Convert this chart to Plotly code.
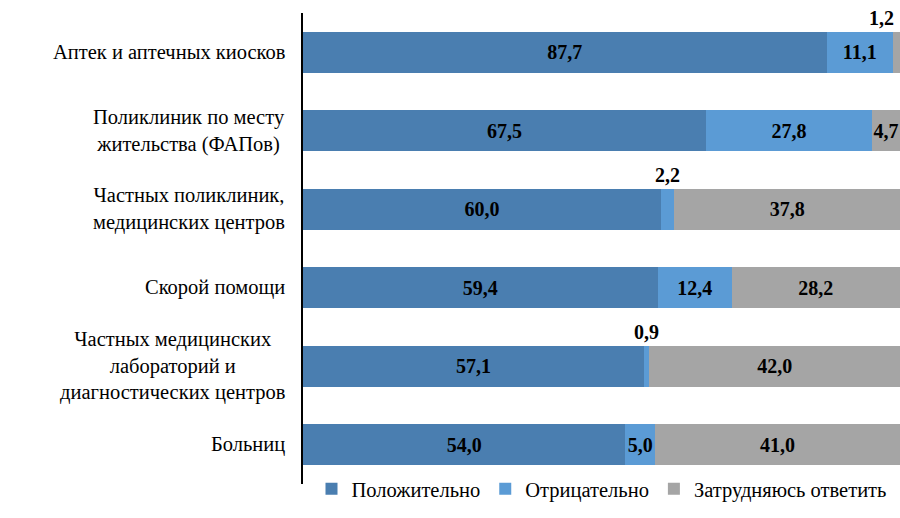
import plotly.graph_objects as go

categories = [
    "Аптек и аптечных киосков",
    "Поликлиник по месту<br>жительства (ФАПов)",
    "Частных поликлиник,<br>медицинских центров",
    "Скорой помощи",
    "Частных медицинских<br>лабораторий и<br>диагностических центров",
    "Больниц",
]
positive = [87.7, 67.5, 60.0, 59.4, 57.1, 54.0]
negative = [11.1, 27.8, 2.2, 12.4, 0.9, 5.0]
unsure = [1.2, 4.7, 37.8, 28.2, 42.0, 41.0]

series_names = ["Положительно", "Отрицательно", "Затрудняюсь ответить"]
colors = ["#4A7EB0", "#5B9BD5", "#A5A5A5"]

SMALL = 2.5  # values below this are labelled above the bar

def fmt(v):
    return f"{v:.1f}".replace(".", ",")

FONT = "Liberation Serif"
LABEL_SIZE = 20.5
VALUE_SIZE = 20

fig = go.Figure()
for name, vals, col in zip(series_names, [positive, negative, unsure], colors):
    texts = [fmt(v) if v >= SMALL else "" for v in vals]
    fig.add_trace(go.Bar(
        y=categories, x=vals, name=name, orientation="h",
        marker=dict(color=col, line=dict(width=0)),
        text=texts, textposition="inside", insidetextanchor="middle",
        textangle=0, constraintext="none",
        textfont=dict(family=FONT, size=VALUE_SIZE, color="black", weight="bold"),
        hoverinfo="skip",
    ))

series_all = [positive, negative, unsure]
for i, cat in enumerate(categories):
    # category label: block right-aligned, lines centered
    fig.add_annotation(
        x=0, y=cat, xref="paper", yref="y", text=cat, showarrow=False,
        xanchor="right", align="center", xshift=-16,
        font=dict(family=FONT, size=LABEL_SIZE, color="black"),
    )
    start = 0.0
    for s in range(3):
        v = series_all[s][i]
        if v < SMALL:
            mid = start + v / 2
            xanchor = "center"
            xpos = mid
            if mid > 98:
                xanchor = "right"
                xpos = 100
            fig.add_annotation(
                x=xpos, y=cat, xref="x", yref="y", text=f"<b>{fmt(v)}</b>",
                showarrow=False, yshift=34, xanchor=xanchor,
                xshift=-4 if xanchor == "right" else 0,
                font=dict(family=FONT, size=VALUE_SIZE, color="black"),
            )
        start += v

fig.update_layout(
    barmode="stack",
    bargap=0.48,
    width=900, height=518,
    margin=dict(l=303, r=0, t=13, b=34),
    plot_bgcolor="white", paper_bgcolor="white",
    font=dict(family=FONT, size=LABEL_SIZE, color="black"),
    xaxis=dict(range=[0, 100], showticklabels=False, showgrid=False,
               zeroline=False, showline=False, ticks=""),
    yaxis=dict(autorange="reversed", showline=True, linecolor="black",
               linewidth=1.5, ticks="", showgrid=False,
               showticklabels=False),
    legend=dict(orientation="h", x=0.5, xanchor="center", y=0.032,
                yanchor="top", font=dict(family=FONT, size=LABEL_SIZE, color="black"),
                itemwidth=30, traceorder="normal"),
    showlegend=True,
)

fig.write_html("out.html", config={"displayModeBar": False},
               post_script="document.body.style.margin='0';document.body.style.overflow='hidden';")
